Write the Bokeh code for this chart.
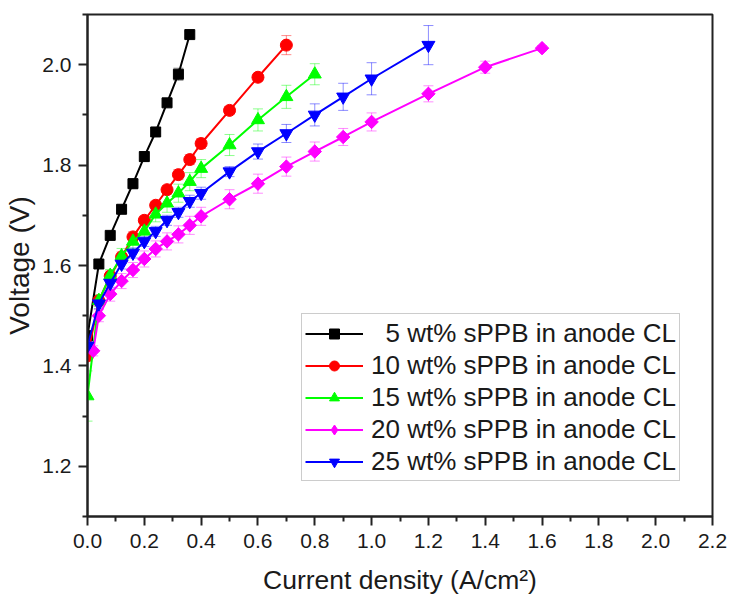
import math
from bokeh.plotting import figure
from bokeh.models import (ColumnDataSource, Whisker, TeeHead, FixedTicker, Legend,
                          LegendItem, NumeralTickFormatter, Range1d)
from bokeh.embed import file_html
from bokeh.resources import INLINE

# ---------------- data ----------------
series_names = ["\u20075 wt% sPPB in anode CL", "10 wt% sPPB in anode CL",
                "15 wt% sPPB in anode CL", "20 wt% sPPB in anode CL",
                "25 wt% sPPB in anode CL"]

black_x = [0.0, 0.04, 0.08, 0.12, 0.16, 0.20, 0.24, 0.28, 0.32, 0.36]
black_y = [1.46, 1.603, 1.66, 1.712, 1.763, 1.817, 1.866, 1.924, 1.981, 2.06]
black_err = [0.01, 0.006, 0.006, 0.008, 0.01, 0.01, 0.008, 0.008, 0.012, 0.006]

red_x = [0.0, 0.04, 0.08, 0.12, 0.16, 0.20, 0.24, 0.28, 0.32, 0.36, 0.40, 0.50, 0.60, 0.70]
red_y = [1.42, 1.53, 1.579, 1.617, 1.657, 1.69, 1.72, 1.751, 1.781, 1.811, 1.843, 1.909, 1.975, 2.039]
red_err = [0.01, 0.01, 0.01, 0.01, 0.01, 0.008, 0.008, 0.008, 0.01, 0.01, 0.01, 0.008, 0.008, 0.019]

green_x = [0.0, 0.04, 0.08, 0.12, 0.16, 0.20, 0.24, 0.28, 0.32, 0.36, 0.40, 0.50, 0.60, 0.70, 0.80]
green_y = [1.34, 1.53, 1.58, 1.619, 1.648, 1.668, 1.702, 1.724, 1.744, 1.767, 1.793, 1.84, 1.89, 1.936, 1.981]
green_err = [0.05, 0.012, 0.012, 0.015, 0.015, 0.015, 0.015, 0.018, 0.018, 0.018, 0.018, 0.021, 0.022, 0.023, 0.021]

magenta_x = [0.02, 0.04, 0.08, 0.12, 0.16, 0.20, 0.24, 0.28, 0.32, 0.36, 0.40, 0.50, 0.60,
             0.70, 0.80, 0.90, 1.00, 1.20, 1.40, 1.60]
magenta_y = [1.43, 1.50, 1.543, 1.569, 1.591, 1.613, 1.633, 1.648, 1.662, 1.68, 1.698, 1.732,
             1.763, 1.797, 1.827, 1.856, 1.886, 1.942, 1.995, 2.033]
magenta_err = [0.01, 0.012, 0.014, 0.015, 0.015, 0.016, 0.016, 0.017, 0.017, 0.018, 0.018, 0.019,
               0.019, 0.019, 0.019, 0.017, 0.018, 0.016, 0.012, 0.005]

blue_x = [0.0, 0.04, 0.08, 0.12, 0.16, 0.20, 0.24, 0.28, 0.32, 0.36, 0.40, 0.50, 0.60, 0.70,
          0.80, 0.90, 1.00, 1.20]
blue_y = [1.44, 1.524, 1.565, 1.603, 1.625, 1.648, 1.668, 1.69, 1.706, 1.728, 1.744, 1.787,
          1.827, 1.863, 1.90, 1.936, 1.972, 2.039]
blue_err = [0.01, 0.01, 0.01, 0.01, 0.01, 0.01, 0.01, 0.01, 0.01, 0.012, 0.012, 0.01, 0.015,
            0.018, 0.022, 0.027, 0.032, 0.039]

x_ticks = [0.0, 0.2, 0.4, 0.6, 0.8, 1.0, 1.2, 1.4, 1.6, 1.8, 2.0, 2.2]
x_minor = [0.1, 0.3, 0.5, 0.7, 0.9, 1.1, 1.3, 1.5, 1.7, 1.9, 2.1]
y_ticks = [1.2, 1.4, 1.6, 1.8, 2.0]
y_minor = [1.1, 1.3, 1.5, 1.7, 1.9, 2.1]

# ---------------- figure ----------------
FONT = "Liberation Sans"
p = figure(width=730, height=597, output_backend="svg", toolbar_location=None,
           x_range=Range1d(0, 2.2), y_range=Range1d(1.1, 2.1),
           min_border_left=87, min_border_right=18, min_border_top=14, min_border_bottom=80)
p.xgrid.visible = False
p.ygrid.visible = False
p.outline_line_color = "#222222"
p.outline_line_width = 2
p.background_fill_color = "white"
p.border_fill_color = "white"

p.xaxis.ticker = FixedTicker(ticks=x_ticks, minor_ticks=x_minor)
p.yaxis.ticker = FixedTicker(ticks=y_ticks, minor_ticks=y_minor)
p.xaxis.formatter = NumeralTickFormatter(format="0.0")
p.yaxis.formatter = NumeralTickFormatter(format="0.0")
for ax in (p.xaxis[0], p.yaxis[0]):
    ax.axis_line_width = 2
    ax.axis_line_color = "#222222"
    ax.major_tick_line_width = 2
    ax.minor_tick_line_width = 2
    ax.major_tick_line_color = "#222222"
    ax.minor_tick_line_color = "#222222"
    ax.major_tick_out = 9
    ax.major_tick_in = 0
    ax.minor_tick_out = 5
    ax.minor_tick_in = 0
    ax.major_label_text_font = FONT
    ax.major_label_text_font_size = "21px"
    ax.major_label_text_color = "#1a1a1a"
    ax.axis_label_text_font = FONT
    ax.axis_label_text_font_style = "normal"
    ax.axis_label_text_color = "#1a1a1a"
p.xaxis.axis_label_text_font_size = "26.5px"
p.yaxis.axis_label_text_font_size = "28px"
p.xaxis.major_label_standoff = 8
p.yaxis.major_label_standoff = 7
p.xaxis.axis_label = "Current density (A/cm\u00b2)"
p.yaxis.axis_label = "Voltage (V)"
p.xaxis.axis_label_standoff = 14
p.yaxis.axis_label_standoff = 4

series = [
    (black_x, black_y, black_err, "#000000", "square", 10, 0.0),
    (red_x, red_y, red_err, "#ff0000", "circle", 12, 0.0),
    (green_x, green_y, green_err, "#00ff00", "triangle", 13, 0.0),
    (magenta_x, magenta_y, magenta_err, "#ff00ff", "square", 9.5, math.pi / 4),
    (blue_x, blue_y, blue_err, "#0000ff", "inverted_triangle", 13, 0.0),
]

items = []
for (xs, ys, es, col, mk, sz, ang), name in zip(series, series_names):
    src = ColumnDataSource(dict(x=xs, y=ys,
                                upper=[v + e for v, e in zip(ys, es)],
                                lower=[v - e for v, e in zip(ys, es)]))
    w = Whisker(source=src, base="x", upper="upper", lower="lower",
                line_color=col, line_alpha=0.45, line_width=1, level="underlay",
                upper_head=TeeHead(size=10, line_color=col, line_alpha=0.45, line_width=1),
                lower_head=TeeHead(size=10, line_color=col, line_alpha=0.45, line_width=1))
    p.add_layout(w)
    ln = p.line("x", "y", source=src, line_color=col, line_width=2)
    if ang:
        # diamond marker (for the legend), covered by the rotated square drawn on top
        leg_sc = p.scatter("x", "y", source=src, marker="diamond", size=12,
                           fill_color=col, line_color=col)
        p.scatter("x", "y", source=src, marker=mk, size=sz, angle=ang,
                  fill_color=col, line_color=col)
        items.append(LegendItem(label=name, renderers=[ln, leg_sc]))
    else:
        sc = p.scatter("x", "y", source=src, marker=mk, size=sz,
                       fill_color=col, line_color=col)
        items.append(LegendItem(label=name, renderers=[ln, sc]))

legend = Legend(items=items, location=(214, 35))
legend.label_text_font = FONT
legend.label_text_font_size = "26px"
legend.label_text_color = "#1a1a1a"
legend.glyph_width = 58
legend.glyph_height = 25
legend.label_height = 32
legend.label_standoff = 8
legend.spacing = 0
legend.padding = 3
legend.margin = 0
legend.border_line_color = "#999999"
legend.border_line_width = 1.5
legend.background_fill_alpha = 1
p.add_layout(legend, "center")

open("out.html", "w").write(file_html(p, INLINE))
